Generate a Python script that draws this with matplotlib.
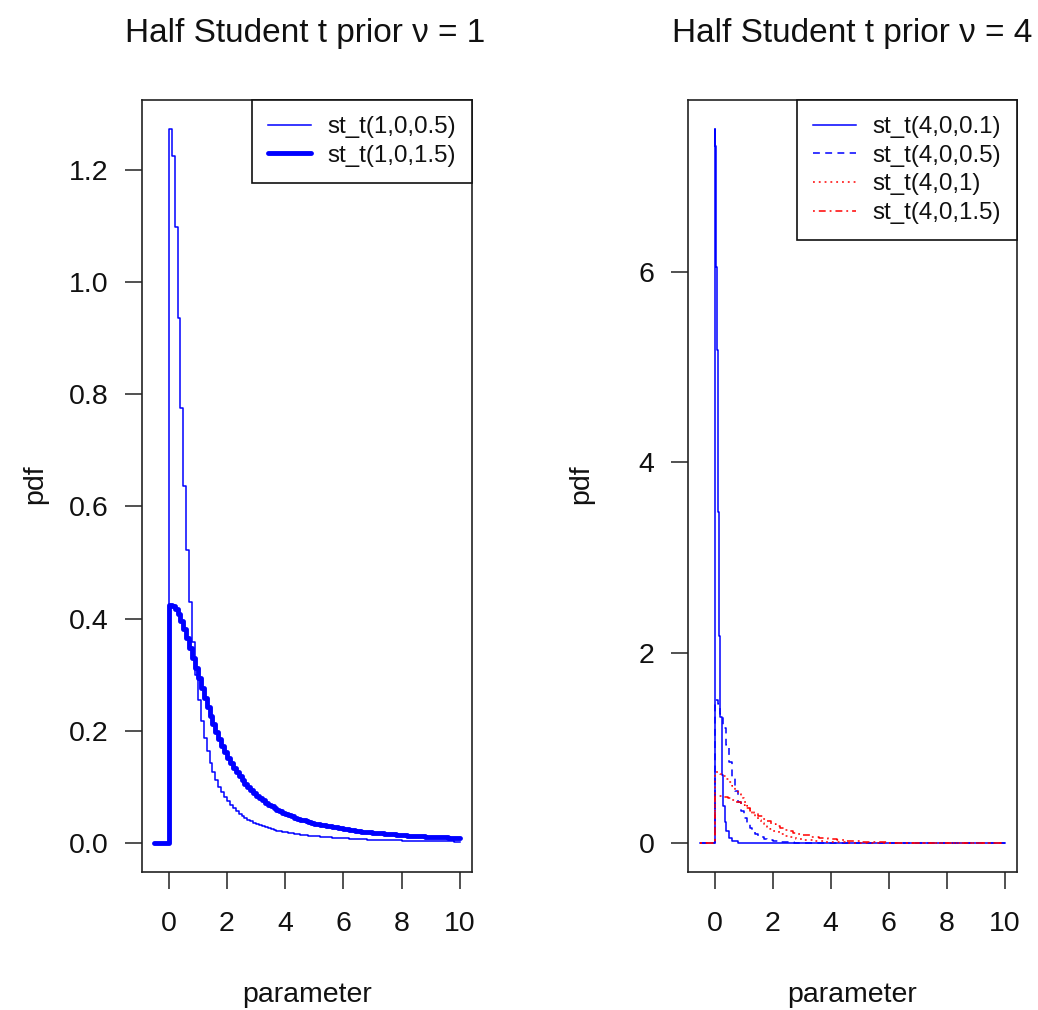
import matplotlib
matplotlib.use("Agg")
import matplotlib.pyplot as plt

plt.rcParams['font.family'] = ['Liberation Sans', 'DejaVu Sans']

# ---------------- data ----------------
# Left panel: half Student t, nu = 1
x_left = [-0.5, 0.0, 0.1, 0.2, 0.3, 0.4, 0.5, 0.6, 0.7, 0.8, 0.9, 1.0,
          1.1, 1.2, 1.3, 1.4, 1.5, 1.6, 1.7, 1.8, 1.9, 2.0,
          2.1, 2.2, 2.3, 2.4, 2.5, 2.6, 2.7, 2.8, 2.9, 3.0,
          3.1, 3.2, 3.3, 3.4, 3.5, 3.6, 3.7, 3.8, 3.9, 4.0,
          4.1, 4.2, 4.3, 4.4, 4.5, 4.6, 4.7, 4.8, 4.9, 5.0,
          5.2, 5.4, 5.6, 5.8, 6.0,
          6.2, 6.4, 6.6, 6.8, 7.0, 7.2, 7.4, 7.6, 7.8, 8.0,
          8.2, 8.4, 8.6, 8.8, 9.0, 9.2, 9.4, 9.6, 9.8, 10.0]
pdf_t1_s05 = [0.0, 1.273, 1.224, 1.098, 0.936, 0.776, 0.637, 0.522, 0.430, 0.358, 0.300, 0.255,
              0.218, 0.188, 0.164, 0.144, 0.127, 0.113, 0.101, 0.0912, 0.0825, 0.0749,
              0.0683, 0.0625, 0.0575, 0.0530, 0.0490, 0.0454, 0.0422, 0.0393, 0.0368, 0.0344,
              0.0323, 0.0303, 0.0286, 0.0270, 0.0255, 0.0241, 0.0228, 0.0217, 0.0206, 0.0196,
              0.0187, 0.0178, 0.0170, 0.0162, 0.0155, 0.0149, 0.0142, 0.0137, 0.0131, 0.0126,
              0.0117, 0.0108, 0.0101, 0.0094, 0.0088,
              0.0082, 0.0077, 0.0073, 0.0068, 0.0065, 0.0061, 0.0058, 0.0055, 0.0052, 0.0050,
              0.0047, 0.0045, 0.0043, 0.0041, 0.0039, 0.0037, 0.0036, 0.0034, 0.0033, 0.0032]
pdf_t1_s15 = [0.0, 0.4244, 0.4225, 0.4170, 0.4081, 0.3962, 0.3820, 0.3659, 0.3485, 0.3304, 0.3121, 0.2938,
              0.2760, 0.2588, 0.2424, 0.2268, 0.2122, 0.1985, 0.1858, 0.1739, 0.1630, 0.1528,
              0.1434, 0.1347, 0.1266, 0.1192, 0.1123, 0.1060, 0.1001, 0.0946, 0.0896, 0.0849,
              0.0805, 0.0765, 0.0727, 0.0691, 0.0659, 0.0628, 0.0599, 0.0572, 0.0547, 0.0523,
              0.0501, 0.0480, 0.0460, 0.0442, 0.0424, 0.0408, 0.0392, 0.0378, 0.0364, 0.0350,
              0.0326, 0.0304, 0.0284, 0.0266, 0.0250,
              0.0235, 0.0221, 0.0208, 0.0197, 0.0186, 0.0177, 0.0168, 0.0159, 0.0151, 0.0144,
              0.0137, 0.0131, 0.0125, 0.0120, 0.0115, 0.0110, 0.0105, 0.0101, 0.0097, 0.0093]
labels_left = ["st_t(1,0,0.5)", "st_t(1,0,1.5)"]

# Right panel: half Student t, nu = 4
x_s01 = [-0.5, 0.0, 0.02, 0.04, 0.06, 0.08, 0.1, 0.12, 0.14, 0.16, 0.18, 0.2,
         0.25, 0.3, 0.35, 0.4, 0.5, 0.6, 0.8, 1.0, 10.0]
pdf_t4_s01 = [0.0, 7.50, 7.32, 6.80, 6.05, 5.18, 4.29, 3.48, 2.77, 2.18, 1.70, 1.33,
              0.713, 0.394, 0.226, 0.134, 0.053, 0.024, 0.006, 0.002, 0.001]

x_s05 = [-0.5, 0.0, 0.1, 0.2, 0.3, 0.4, 0.5, 0.6, 0.7, 0.8, 0.9, 1.0,
         1.1, 1.2, 1.3, 1.4, 1.5, 1.6, 1.7, 1.8, 1.9, 2.0,
         2.25, 2.5, 2.75, 3.0, 3.25, 3.5, 4.0, 5.0, 6.0, 8.0, 10.0]
pdf_t4_s05 = [0.0, 1.500, 1.463, 1.360, 1.209, 1.035, 0.859, 0.695, 0.554, 0.435, 0.340, 0.265,
              0.207, 0.161, 0.126, 0.0995, 0.0788, 0.0627, 0.0503, 0.0405, 0.0329, 0.0269,
              0.0167, 0.0106, 0.0070, 0.0047, 0.0033, 0.0023, 0.0013, 0.0004, 0.0002, 0.0001, 0.0001]

x_s1 = [-0.5, 0.0, 0.1, 0.2, 0.3, 0.4, 0.5, 0.6, 0.7, 0.8, 0.9, 1.0,
        1.1, 1.2, 1.3, 1.4, 1.5, 1.6, 1.7, 1.8, 1.9, 2.0,
        2.2, 2.4, 2.6, 2.8, 3.0, 3.2, 3.4, 3.6, 3.8, 4.0,
        4.5, 5.0, 5.5, 6.0, 6.5, 7.0, 8.0, 10.0]
pdf_t4_s1 = [0.0, 0.750, 0.7453, 0.7316, 0.7094, 0.6800, 0.6446, 0.6047, 0.5618, 0.5175, 0.4730, 0.4293,
             0.3874, 0.3477, 0.3107, 0.2768, 0.2458, 0.2177, 0.1926, 0.1702, 0.1502, 0.1326,
             0.1033, 0.0806, 0.0632, 0.0497, 0.0394, 0.0314, 0.0251, 0.0203, 0.0164, 0.0134,
             0.0083, 0.0053, 0.0035, 0.0024, 0.0017, 0.0012, 0.0006, 0.0002]

x_s15 = [-0.5, 0.0, 0.15, 0.3, 0.45, 0.6, 0.75, 0.9, 1.05, 1.2, 1.35, 1.5,
         1.65, 1.8, 1.95, 2.1, 2.25, 2.4, 2.55, 2.7, 2.85, 3.0,
         3.3, 3.6, 3.9, 4.2, 4.5, 4.8, 5.1, 5.4, 5.7, 6.0,
         6.75, 7.5, 8.25, 9.0, 9.75, 10.0]
pdf_t4_s15 = [0.0, 0.500, 0.4969, 0.4877, 0.4730, 0.4533, 0.4297, 0.4031, 0.3746, 0.3450, 0.3154, 0.2862,
              0.2583, 0.2318, 0.2072, 0.1845, 0.1639, 0.1452, 0.1284, 0.1135, 0.1002, 0.0884,
              0.0689, 0.0538, 0.0422, 0.0332, 0.0263, 0.0209, 0.0168, 0.0135, 0.0110, 0.0090,
              0.0056, 0.0035, 0.0023, 0.0016, 0.0011, 0.0010]
labels_right = ["st_t(4,0,0.1)", "st_t(4,0,0.5)", "st_t(4,0,1)", "st_t(4,0,1.5)"]

titles = ["Half Student t prior \u03bd = 1", "Half Student t prior \u03bd = 4"]
x_ticks = [0, 2, 4, 6, 8, 10]
y_ticks_left = [0.0, 0.2, 0.4, 0.6, 0.8, 1.0, 1.2]
y_ticks_right = [0, 2, 4, 6]

# ---------------- figure ----------------
W, H = 1038, 1010
fig = plt.figure(figsize=(W / 100, H / 100), dpi=100)

def fx(px):
    return px / W

def fy(py):
    return (H - py) / H

axL = fig.add_axes([fx(142), fy(872), fx(472) - fx(142), fy(100) - fy(872)])
axR = fig.add_axes([fx(688), fy(872), fx(1017) - fx(688), fy(100) - fy(872)])

BLUE = '#0000FF'
RED = '#FF0000'
TICK_FS = 20.5
thin = 1.1
thick = 3.5

axL.plot(x_left, pdf_t1_s05, drawstyle='steps-post', color=BLUE, lw=thin, label=labels_left[0])
axL.plot(x_left, pdf_t1_s15, drawstyle='steps-post', color=BLUE, lw=thick, label=labels_left[1],
         solid_capstyle='round', solid_joinstyle='round')

axR.plot(x_s01, pdf_t4_s01, drawstyle='steps-post', color=BLUE, lw=thin, label=labels_right[0])
axR.plot(x_s05, pdf_t4_s05, drawstyle='steps-post', color=BLUE, lw=thin,
         linestyle=(0, (4.5, 3.5)), label=labels_right[1])
axR.plot(x_s1, pdf_t4_s1, drawstyle='steps-post', color=RED, lw=thin,
         linestyle=(0, (1.2, 2.6)), label=labels_right[2])
axR.plot(x_s15, pdf_t4_s15, drawstyle='steps-post', color=RED, lw=thin,
         linestyle=(0, (1.2, 2.6, 4.5, 2.6)), label=labels_right[3])

for ax, yt, ylim, ylabs, title, cx in [
        (axL, y_ticks_left, (-0.051, 1.324), ["%.1f" % v for v in y_ticks_left], titles[0], 305),
        (axR, y_ticks_right, (-0.3, 7.8), ["%d" % v for v in y_ticks_right], titles[1], 852)]:
    ax.set_xlim(-0.92, 10.42)
    ax.set_ylim(*ylim)
    ax.set_xticks(x_ticks)
    ax.set_xticklabels([str(v) for v in x_ticks])
    ax.set_yticks(yt)
    ax.set_yticklabels(ylabs)
    ax.tick_params(axis='both', direction='out', length=12.2, width=1.1, color='#222222',
                   labelsize=TICK_FS, labelcolor='#111111')
    ax.tick_params(axis='x', pad=16)
    ax.tick_params(axis='y', pad=12)
    for sp in ax.spines.values():
        sp.set_linewidth(1.2)
        sp.set_color('#222222')
    fig.text(fx(cx), fy(42), title, ha='center', va='baseline', fontsize=24, color='#111111')
    fig.text(fx(cx if ax is axR else 307), fy(1002), "parameter", ha='center', va='baseline',
             fontsize=TICK_FS, color='#111111')

fig.text(fx(35), fy(484), "pdf", rotation=90, ha='center', va='center', fontsize=TICK_FS,
         color='#111111')
fig.text(fx(581), fy(484), "pdf", rotation=90, ha='center', va='center', fontsize=TICK_FS,
         color='#111111')

leg_kw = dict(loc='upper right', fontsize=17.4, frameon=True, fancybox=False,
              borderaxespad=0, handlelength=1.75, handletextpad=0.68,
              labelspacing=0.27, borderpad=0.68)
legL = axL.legend(**leg_kw)
legR = axR.legend(**leg_kw)
for lg in (legL, legR):
    fr = lg.get_frame()
    fr.set_edgecolor('#111111')
    fr.set_linewidth(1.2)
    fr.set_alpha(1)
    for t in lg.get_texts():
        t.set_color('#111111')

fig.savefig("out.png", dpi=100)
